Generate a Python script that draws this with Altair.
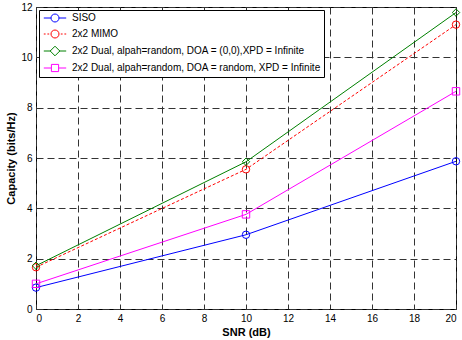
import altair as alt
import pandas as pd

snr = [0, 10, 20]
siso = [0.85, 2.95, 5.87]
mimo = [1.66, 5.55, 11.3]
dual_doa00 = [1.72, 5.85, 11.78]
dual_rand = [1.0, 3.76, 8.65]

names = [
    "SISO",
    "2x2 MIMO",
    "2x2 Dual, alpah=random, DOA = (0,0),XPD = Infinite",
    "2x2 Dual, alpah=random, DOA = random, XPD = Infinite",
]
series = [siso, mimo, dual_doa00, dual_rand]
colors = ["#0000ff", "#ff0000", "#008000", "#ff00ff"]
shapes = ["circle", "circle", "diamond", "square"]
dashed_series = ["2x2 MIMO"]
x_ticks = list(range(0, 21, 2))
y_ticks = list(range(0, 13, 2))

rows = []
for n, vals, shp in zip(names, series, shapes):
    for x, v in zip(snr, vals):
        rows.append({"snr": x, "cap": v, "series": n, "marker": shp,
                     "dashed": n in dashed_series})
df = pd.DataFrame(rows)

solid = "M-2.8,0L-1,0M1,0L2.8,0"
dashed = "M-2.8,0L-2.35,0M-1.9,0L-1.45,0M1.45,0L1.9,0M2.35,0L2.8,0"
circ = "M-1,0A1,1,0,1,0,1,0A1,1,0,1,0,-1,0"
diam = "M-1.2,0L0,-1.2L1.2,0L0,1.2Z"
squ = "M-0.9,-0.9L0.9,-0.9L0.9,0.9L-0.9,0.9Z"
sym_expr = (
    f"datum.value == '{names[0]}' ? '{solid}{circ}' : "
    f"datum.value == '{names[1]}' ? '{dashed}{circ}' : "
    f"datum.value == '{names[2]}' ? '{solid}{diam}' : '{solid}{squ}'"
)

legend = alt.Legend(
    title=None,
    orient="none",
    legendX=3,
    legendY=3,
    fillColor="white",
    strokeColor="black",
    padding=3,
    rowPadding=4,
    symbolType={"expr": sym_expr},
    symbolSize=64,
    symbolOffset=8,
    symbolFillColor="transparent",
    symbolStrokeWidth=1,
    labelOffset=12,
    labelFont="Liberation Sans",
    labelFontSize=10,
    labelColor="black",
    labelLimit=0,
)

color = alt.Color(
    "series:N",
    scale=alt.Scale(domain=names, range=colors),
    legend=legend,
)

xenc = alt.X(
    "snr:Q",
    scale=alt.Scale(domain=[0, 20], nice=False),
    axis=alt.Axis(values=x_ticks, title="SNR (dB)"),
)
yenc = alt.Y(
    "cap:Q",
    scale=alt.Scale(domain=[0, 12], nice=False),
    axis=alt.Axis(values=y_ticks, title="Capacity (bits/Hz)"),
)

base = alt.Chart(df).encode(x=xenc, y=yenc, color=color)
solid_lines = base.transform_filter("!datum.dashed").mark_line(strokeWidth=1)
dashed_lines = base.transform_filter("datum.dashed").mark_line(
    strokeWidth=1, strokeDash=[3, 2]
)
layers = [solid_lines, dashed_lines]
for shp in ["circle", "diamond", "square"]:
    layers.append(
        base.transform_filter(f"datum.marker == '{shp}'").mark_point(
            shape=shp, filled=False, size=55, strokeWidth=1, opacity=1
        )
    )

chart = (
    alt.layer(*layers)
    .properties(
        width=420,
        height=302,
        autosize=alt.AutoSizeParams(type="none"),
        padding={"left": 36, "top": 7, "right": 6, "bottom": 31},
        background="white",
    )
    .configure_view(stroke="black", strokeWidth=1)
    .configure_axis(
        domain=False,
        ticks=False,
        grid=True,
        gridColor="#333333",
        gridDash=[7, 4],
        gridWidth=1,
        gridOpacity=1,
        labelFont="Liberation Sans",
        labelFontSize=10,
        labelColor="black",
        labelPadding=4,
        titleFont="Liberation Sans",
        titleFontSize=11,
        titleFontWeight="bold",
        titleColor="black",
    )
    .configure_axisX(titlePadding=3)
    .configure_axisY(titlePadding=4)
)

chart.save("out.html", embed_options={"renderer": "svg", "actions": False})
